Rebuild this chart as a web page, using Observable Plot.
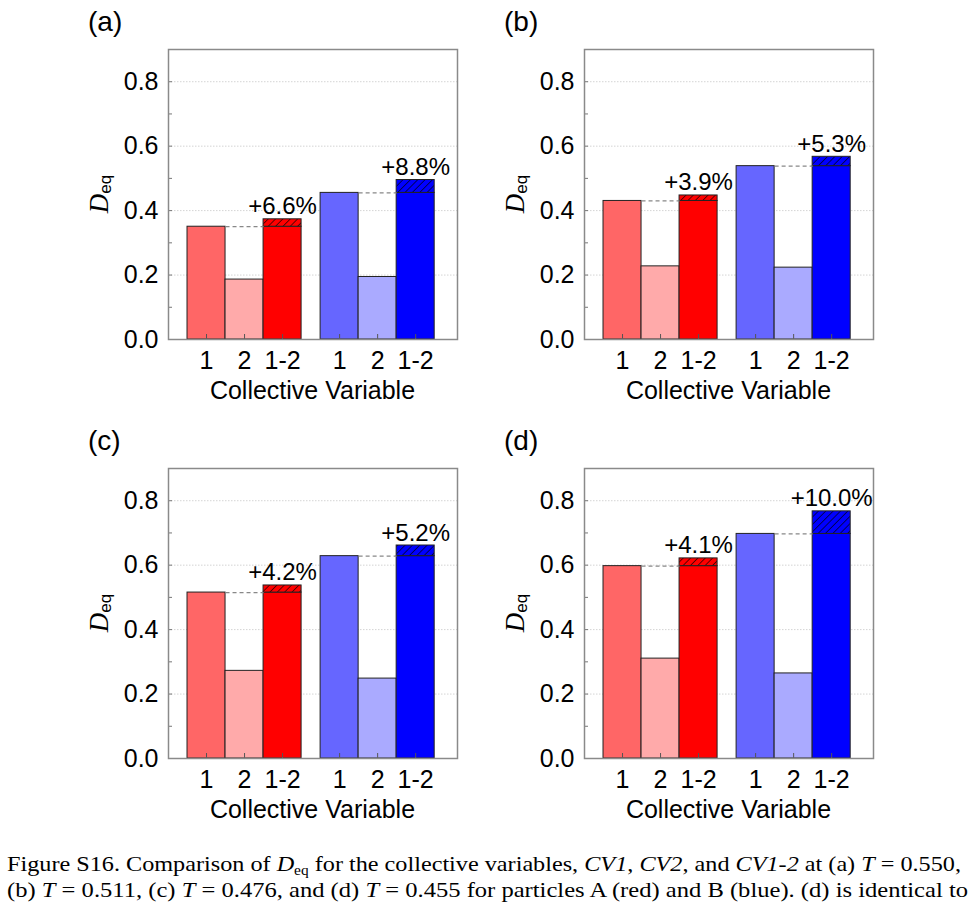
<!DOCTYPE html>
<html>
<head>
<meta charset="utf-8">
<script src="https://cdn.jsdelivr.net/npm/d3@7"></script>
<script src="https://cdn.jsdelivr.net/npm/@observablehq/plot@0.6"></script>
<style>
  html, body { margin: 0; padding: 0; background: #fff; }
  body { width: 976px; height: 916px; position: relative; overflow: hidden;
         font-family: "Liberation Sans", Arial, sans-serif; }
  .panel { position: absolute; }
  .cap { position: absolute; left: 7px; white-space: nowrap; transform-origin: 0 0;
         font-family: "Liberation Serif", "Times New Roman", Times, Tinos, "Nimbus Roman", FreeSerif, serif;
         font-size: 22px; color: #000; line-height: 1; }
  .cap sub { font-size: 14px; vertical-align: -4px; line-height: 0; }
</style>
</head>
<body>
<div id="root"></div>
<script>
// Panels: temperatures T = 0.550, 0.511, 0.476, 0.455
const panelNames = ["(a)", "(b)", "(c)", "(d)"];
const cvLabels = ["1", "2", "1-2"];

// Particles A (red)
const redCV1  = [0.350, 0.430, 0.515, 0.597];
const redCV2  = [0.186, 0.227, 0.272, 0.310];
const redCV12 = [0.373, 0.447, 0.537, 0.621];
const redGain = [6.6, 3.9, 4.2, 4.1];

// Particles B (blue)
const blueCV1  = [0.455, 0.538, 0.628, 0.697];
const blueCV2  = [0.194, 0.223, 0.248, 0.264];
const blueCV12 = [0.495, 0.567, 0.661, 0.767];
const blueGain = [8.8, 5.3, 5.2, 10.0];

const yMajor = [0, 0.2, 0.4, 0.6, 0.8];
const yMinor = [0.1, 0.3, 0.5, 0.7];

const redColors  = ["#ff6666", "#ffaaaa", "#ff0000"];
const blueColors = ["#6666ff", "#aaaaff", "#0000ff"];

const serif = "'Liberation Serif', 'Times New Roman', Times, Tinos, serif";
const sans = "'Liberation Sans', Arial, sans-serif";

// bar slot positions along x: three bars per particle type, a half-bar gap between groups
const slot = (g, i) => 1 + g * 3.5 + i;

const W = 420, H = 410, mL = 108, mR = 23, mT = 49, mB = 71;
const plotW = W - mL - mR, plotH = H - mT - mB;
const positions = [0, 1].flatMap(g => [0, 1, 2].map(i => slot(g, i)));
const labelAt = new Map(positions.map((p, k) => [p, cvLabels[k % 3]]));

const placement = [[60, 0], [476, 0], [60, 419], [476, 419]];
const root = document.getElementById("root");

panelNames.forEach((name, p) => {
  const groups = [
    {vals: [redCV1[p], redCV2[p], redCV12[p]], gain: redGain[p], colors: redColors, key: "red"},
    {vals: [blueCV1[p], blueCV2[p], blueCV12[p]], gain: blueGain[p], colors: blueColors, key: "blue"}
  ];

  // solid bars: CV1, CV2, and the CV1 portion of CV1-2
  const bars = groups.flatMap((gr, g) => [
    {x: slot(g, 0), v: gr.vals[0], c: gr.colors[0]},
    {x: slot(g, 1), v: gr.vals[1], c: gr.colors[1]},
    {x: slot(g, 2), v: gr.vals[0], c: gr.colors[2]}
  ]);
  // hatched increment of CV1-2 above CV1
  const extra = groups.map((gr, g) => ({x: slot(g, 2), base: gr.vals[0], top: gr.vals[2], key: gr.key,
    label: "+" + gr.gain.toFixed(1) + "%"}));
  // dashed reference from CV1 to CV1-2
  const dashes = groups.map((gr, g) => ({x1: slot(g, 0) + 0.5, x2: slot(g, 2) - 0.5, v: gr.vals[0]}));

  const id = "hatch" + p;
  const chart = Plot.plot({
    width: W, height: H,
    marginLeft: mL, marginRight: mR, marginTop: mT, marginBottom: mB,
    style: {fontFamily: sans, fontSize: "25px", background: "white", color: "#000"},
    x: {domain: [0, 7.6], axis: null},
    y: {domain: [0, 0.9], axis: null},
    color: {type: "identity"},
    marks: [
      Plot.gridY(yMajor.filter(v => v > 0), {stroke: "#d4d4d4", strokeOpacity: 1, strokeDasharray: "1.5,1.5"}),
      Plot.rectY(bars, {x1: d => d.x - 0.5, x2: d => d.x + 0.5, y1: 0, y2: "v", fill: "c", stroke: "#222", strokeWidth: 1}),
      Plot.rectY(extra.filter(d => d.key === "red"), {x1: d => d.x - 0.5, x2: d => d.x + 0.5, y1: "base", y2: "top",
        fill: `url(#${id}-red)`, stroke: "#222", strokeWidth: 1}),
      Plot.rectY(extra.filter(d => d.key === "blue"), {x1: d => d.x - 0.5, x2: d => d.x + 0.5, y1: "base", y2: "top",
        fill: `url(#${id}-blue)`, stroke: "#222", strokeWidth: 1}),
      Plot.link(dashes, {x1: "x1", x2: "x2", y1: "v", y2: "v", stroke: "#888", strokeWidth: 1.2, strokeDasharray: "4,3"}),
      Plot.text(extra, {x: "x", y: "top", text: "label", dy: -5, lineAnchor: "bottom", fontSize: 24, fill: "#000"}),
      Plot.tickX(positions, {x: d => d, insetTop: plotH - 5, stroke: "#555", strokeWidth: 1}),
      Plot.tickY([...yMajor, ...yMinor], {y: d => d, insetRight: plotW - 4, stroke: "#777", strokeWidth: 1}),
      Plot.axisX(positions, {tickSize: 0, tickPadding: 12, tickFormat: d => labelAt.get(d), fontSize: 25, label: null}),
      Plot.axisY(yMajor, {tickSize: 0, tickPadding: 10, tickFormat: d3.format(".1f"), fontSize: 25, label: null}),
      Plot.frame({stroke: "#8a8a8a", strokeWidth: 1.5})
    ]
  });

  const svg = d3.select(chart);
  const defs = svg.insert("defs", ":first-child");
  const period = 5.2;
  [["red", "#ff0000"], ["blue", "#0000ff"]].forEach(([k, col]) => {
    const pat = defs.append("pattern").attr("id", `${id}-${k}`)
      .attr("patternUnits", "userSpaceOnUse").attr("width", period).attr("height", period)
      .attr("patternTransform", "rotate(45)");
    pat.append("rect").attr("width", period).attr("height", period).attr("fill", col);
    pat.append("line").attr("x1", 0).attr("y1", 0).attr("x2", 0).attr("y2", period)
      .attr("stroke", "#000").attr("stroke-width", 1.2);
  });

  // panel letter
  svg.append("text").attr("x", 28).attr("y", 31).attr("text-anchor", "start")
    .attr("font-family", sans).attr("font-size", 28).text(name);

  // y-axis title D_eq
  const yl = svg.append("text")
    .attr("transform", `translate(48, ${mT + plotH / 2}) rotate(-90)`)
    .attr("text-anchor", "middle").attr("fill", "#000");
  yl.append("tspan").attr("font-family", serif)
    .attr("font-style", "italic").attr("font-size", 27).text("D");
  yl.append("tspan").attr("font-family", sans)
    .attr("font-size", 17).attr("dy", 3).text("eq");

  // x-axis title
  svg.append("text").attr("x", mL + plotW / 2).attr("y", 399).attr("text-anchor", "middle")
    .attr("font-family", sans).attr("font-size", 25).text("Collective Variable");

  chart.classList.add("panel");
  chart.style.left = placement[p][0] + "px";
  chart.style.top = placement[p][1] + "px";
  root.appendChild(chart);
});

// caption, two lines stretched to the text block width
const capLines = [
  {html: 'Figure S16. Comparison of <i>D</i><sub>eq</sub> for the collective variables, <i>CV1</i>, <i>CV2</i>, and <i>CV1-2</i> at (a) <i>T</i> = 0.550,', base: 872, right: 961},
  {html: '(b) <i>T</i> = 0.511, (c) <i>T</i> = 0.476, and (d) <i>T</i> = 0.455 for particles A (red) and B (blue). (d) is identical to', base: 898, right: 968}
];
capLines.forEach(line => {
  const el = document.createElement("div");
  el.className = "cap";
  el.innerHTML = line.html;
  el.style.top = (line.base - 19) + "px";
  document.body.appendChild(el);
  const w = el.getBoundingClientRect().width;
  el.style.transform = `scaleX(${(line.right - 7) / w})`;
});
</script>
</body>
</html>
